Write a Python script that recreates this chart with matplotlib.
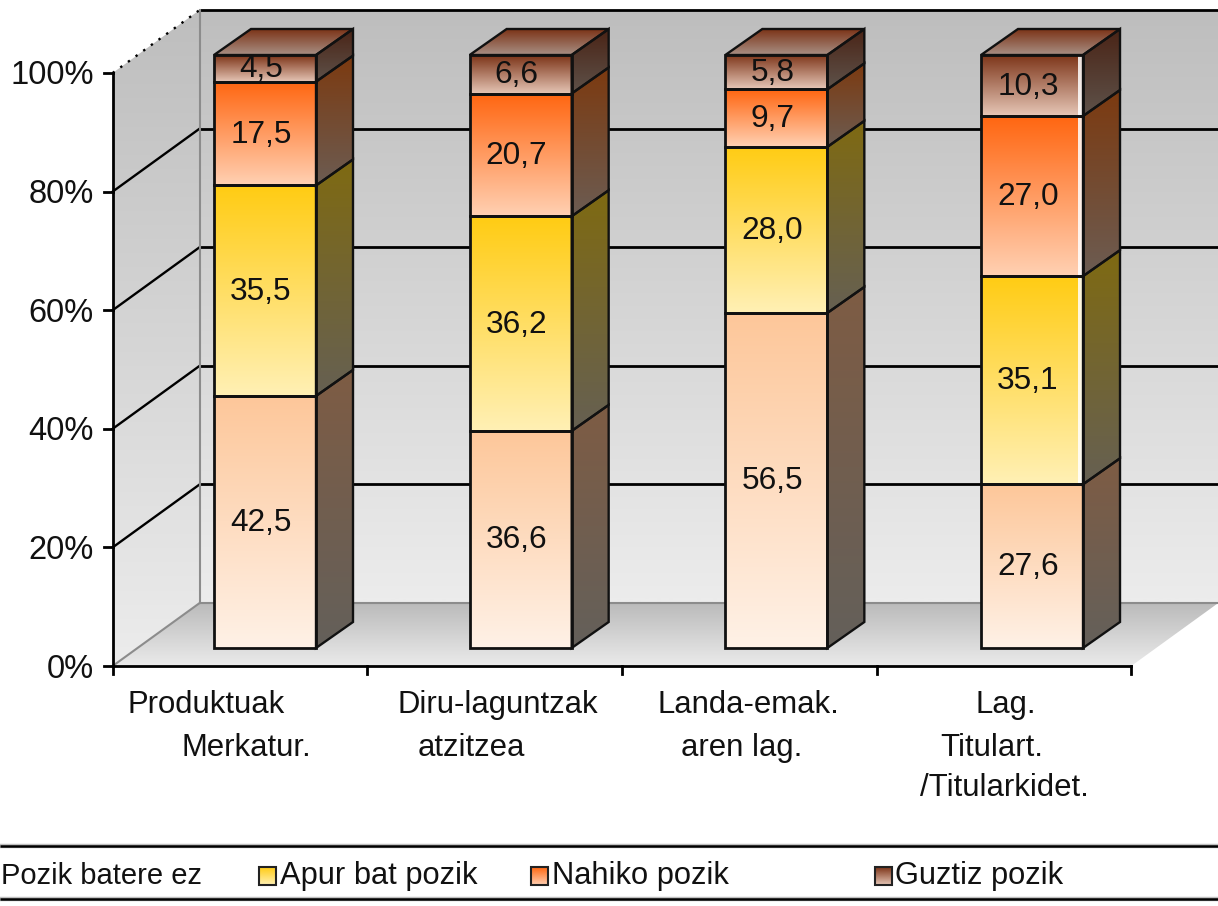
import numpy as np
import matplotlib
matplotlib.use("Agg")
import matplotlib.pyplot as plt
from matplotlib.colors import to_rgb
from matplotlib.patches import Polygon

plt.rcParams['font.family'] = ['Liberation Sans', 'DejaVu Sans']

series_names = ["Pozik batere ez", "Apur bat pozik", "Nahiko pozik", "Guztiz pozik"]
pozik_batere_ez = [42.5, 36.6, 56.5, 27.6]
apur_bat_pozik = [35.5, 36.2, 28.0, 35.1]
nahiko_pozik = [17.5, 20.7, 9.7, 27.0]
guztiz_pozik = [4.5, 6.6, 5.8, 10.3]
series = [pozik_batere_ez, apur_bat_pozik, nahiko_pozik, guztiz_pozik]
y_ticks = [0, 20, 40, 60, 80, 100]
cat_lines = [["Produktuak", "Merkatur."],
             ["Diru-laguntzak", "atzitzea"],
             ["Landa-emak.", "aren lag."],
             ["Lag.", "Titulart.", "/Titularkidet."]]

# layout in pixels
cat_x = [[128, 182], [398, 418], [657, 681], [975, 940, 920]]
cat_y = [705, 748, 788]
X0, STEP, Y0, PCT = 265.0, 255.67, 648.0, 5.93
W, H = 1218, 906
HALF = 51 / STEP

# top colour, bottom colour
front_cols = [("#FDC79A", "#FFF1E6"), ("#FFCC14", "#FFF0B4"), ("#FF6611", "#FFD0B2"), ("#7C3418", "#E6C6B6")]
side_cols = [("#7E5C44", "#64605A"), ("#7F6A12", "#666052"), ("#7C3A10", "#6C5C52"), ("#4A2416", "#5E524A")]
top_cols = ("#7C3418", "#A88F84")


def dx(p):
    return p / STEP


def dy(p):
    return p / PCT


def gradient(ax, verts, c_top, c_bottom, zorder):
    verts = np.array(verts)
    t = np.linspace(0, 1, 64)[:, None, None]
    img = (1 - t) * np.array(to_rgb(c_top))[None, None, :] + t * np.array(to_rgb(c_bottom))[None, None, :]
    lo, hi = verts[:, 1].min(), verts[:, 1].max()
    top, bottom = (lo, hi) if ax.yaxis_inverted() else (hi, lo)
    im = ax.imshow(img, extent=(verts[:, 0].min(), verts[:, 0].max(), bottom, top), origin='upper',
                   aspect='auto', interpolation='bilinear', zorder=zorder)
    im.set_clip_path(Polygon(verts, transform=ax.transData))


fig = plt.figure(figsize=(W / 100, H / 100), dpi=100)
ax = fig.add_axes([0, 0, 1, 1])
ax.axis('off')
xlim = (-X0 / STEP, (W - X0) / STEP)
ylim = ((Y0 - H) / PCT, Y0 / PCT)
ax.set_xlim(xlim)
ax.set_ylim(ylim)

# walls and floor
left, right = -0.5, 3.484
fx, fy = dx(-24.5), dy(-18)
bx, by = dx(62.5), dy(45)
wall_l = left + bx
wall_r = right + bx
gradient(ax, [(wall_l, by), (wall_r, by), (wall_r, 100 + by), (wall_l, 100 + by)], "#BEBEBE", "#ECECEC", 1)
gradient(ax, [(left + fx, fy), (wall_l, by), (wall_l, 100 + by), (left + fx, 100 + fy)], "#BEBEBE", "#ECECEC", 1)
gradient(ax, [(left + fx, fy), (right + fx, fy), (wall_r, by), (wall_l, by)], "#BBBBBB", "#EAEAEA", 1)

for v in y_ticks[1:-1]:
    ax.plot([wall_l, wall_r], [v + by, v + by], color="black", lw=2.0, zorder=2)
    ax.plot([left + fx, wall_l], [v + fy, v + by], color="black", lw=1.7, zorder=2)
ax.plot([wall_l, wall_r], [100 + by, 100 + by], color="black", lw=2.0, zorder=2)
ax.plot([left + fx, wall_l], [100 + fy, 100 + by], color="black", lw=1.7, ls=(0, (1, 3)), zorder=2)
ax.plot([wall_l, wall_l], [by, 100 + by], color="#8C8C8C", lw=1.5, zorder=2)
ax.plot([wall_l, wall_r], [by, by], color="#8C8C8C", lw=1.5, zorder=2)
ax.plot([left + fx, wall_l], [fy, by], color="#8C8C8C", lw=1.5, zorder=2)

# axis lines and ticks
ax.plot([left + fx, left + fx], [fy, 100 + fy], color="black", lw=2.0, zorder=3)
ax.plot([left + fx, right + fx], [fy, fy], color="black", lw=2.0, zorder=3)
for v in y_ticks:
    ax.plot([left + fx - dx(9), left + fx], [v + fy, v + fy], color="black", lw=2.0, zorder=3)
    ax.text(left + fx - dx(19), v + fy - dy(3), "%d%%" % v, ha='right', va='center', fontsize=23.5,
            color="#111111", zorder=6)
for t in np.linspace(left, right, 5):
    ax.plot([t + fx, t + fx], [fy, fy - dy(8)], color="black", lw=2.0, zorder=3)

# bars
ddx, ddy = dx(37), dy(26)
for i in range(len(cat_lines)):
    base = 0.0
    l, r = i - HALF, i + HALF
    for s in range(len(series)):
        val = series[s][i]
        end = min(base + val, 100.0)
        front = [(l, base), (r, base), (r, end), (l, end)]
        side = [(r, base), (r + ddx, base + ddy), (r + ddx, end + ddy), (r, end)]
        gradient(ax, front, front_cols[s][0], front_cols[s][1], 4)
        gradient(ax, side, side_cols[s][0], side_cols[s][1], 4)
        # the last bar has a pale sliver down its right edge
        if i == len(cat_lines) - 1 and s > 0:
            ax.fill_between([r - dx(5), r], base, end, color="white", alpha=0.85, lw=0, zorder=4.5)
        ax.add_patch(Polygon(front, fill=False, ec="#111111", lw=2.0, zorder=5))
        ax.add_patch(Polygon(side, fill=False, ec="#111111", lw=1.7, zorder=5))
        ax.text(i - dx(4), (base + end) / 2 - dy(1), ("%.1f" % val).replace(".", ","), ha='center', va='center',
                fontsize=22.8, color="#111111", zorder=6)
        base = end
    top = [(l, base), (r, base), (r + ddx, base + ddy), (l + ddx, base + ddy)]
    gradient(ax, top, top_cols[0], top_cols[1], 4)
    ax.add_patch(Polygon(top, fill=False, ec="#111111", lw=1.7, zorder=5))

ax.set_xlim(xlim)
ax.set_ylim(ylim)

# category labels and legend, placed in pixels
pax = fig.add_axes([0, 0, 1, 1])
pax.axis('off')
pax.patch.set_alpha(0)
pax.set_xlim(0, W)
pax.set_ylim(H, 0)
for lines, xs in zip(cat_lines, cat_x):
    for j, line in enumerate(lines):
        pax.text(xs[j], cat_y[j], line, ha='left', va='center', fontsize=22.4, color="#111111")

for yy in (846, 899):
    pax.plot([0, W], [yy, yy], color="#C0C0C0", lw=3.2, solid_capstyle='butt')
    pax.plot([0, W], [yy, yy], color="black", lw=1.8, solid_capstyle='butt')

leg_text_x = [1, 280, 552, 895]
leg_text_size = [21.0, 22.2, 22.2, 22.2]
leg_box_x = [-25, 259, 531, 875]
for s, name in enumerate(series_names):
    x = leg_box_x[s]
    box = [(x, 867), (x + 17, 867), (x + 17, 885), (x, 885)]
    gradient(pax, box, front_cols[s][0], front_cols[s][1], 4)
    pax.add_patch(Polygon(box, fill=False, ec="#222222", lw=1.5, zorder=5))
    pax.text(leg_text_x[s], 876, name, ha='left', va='center', fontsize=leg_text_size[s], color="#111111")
pax.set_xlim(0, W)
pax.set_ylim(H, 0)

fig.savefig("out.png", dpi=100)
